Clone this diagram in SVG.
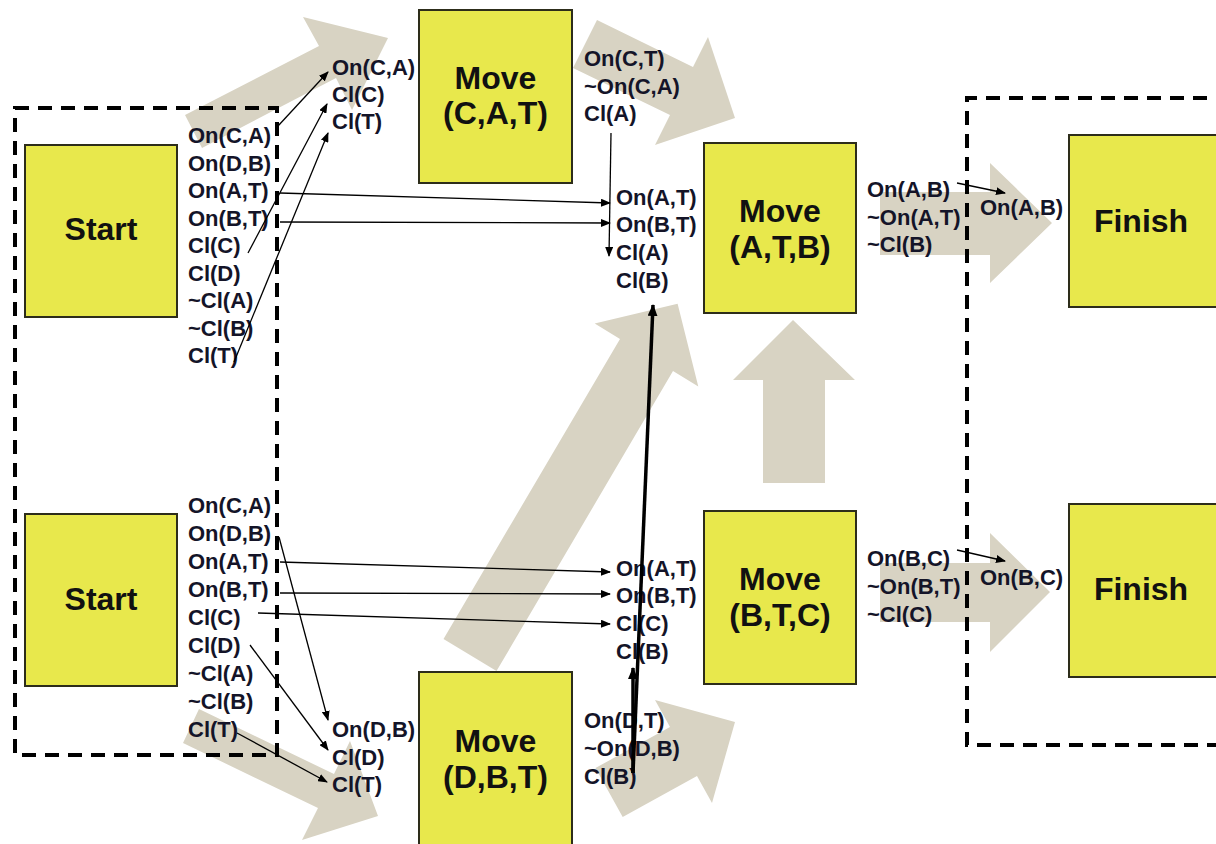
<svg xmlns="http://www.w3.org/2000/svg" width="1216" height="844" viewBox="0 0 1216 844">
<defs>
<style>
.box{fill:#E8E84C;stroke:#2d2d1a;stroke-width:2}
.big{font-family:"Liberation Sans",Arial,sans-serif;font-weight:bold;font-size:32px;fill:#111;text-anchor:middle}
.lbl{font-family:"Liberation Sans",Arial,sans-serif;font-weight:bold;font-size:22px;fill:#141428}
.flow{fill:#D8D3C3}
.dash{fill:none;stroke:#000;stroke-width:4;stroke-dasharray:14 9}
.c{fill:none;stroke:#000;stroke-width:1.3;marker-end:url(#ah)}
.ct{fill:none;stroke:#000;stroke-width:3.5;marker-end:url(#ahb)}
</style>
<marker id="ah" markerUnits="userSpaceOnUse" markerWidth="10" markerHeight="8" refX="9" refY="4" orient="auto">
<path d="M0,0 L10,4 L0,8 z" fill="#000"/>
</marker>
<marker id="ahb" markerUnits="userSpaceOnUse" markerWidth="12" markerHeight="10" refX="11" refY="5" orient="auto">
<path d="M0,0 L12,5 L0,10 z" fill="#000"/>
</marker>
</defs>
<rect width="1216" height="844" fill="#fff"/>

<g id="flows">
<polygon class="flow" points="185,115 319,46 303,17 388,38 352,110 336,78 202,148"/>
<polygon class="flow" points="597,20 693,67 708,37 735,118 655,145 670,115 573,68"/>
<polygon class="flow" points="880,192 990,192 990,163 1052,223 990,283 990,255 880,255"/>
<polygon class="flow" points="880,563 990,563 990,533 1050,592 990,652 990,622 880,622"/>
<polygon class="flow" points="763,483 763,380 733,380 793,320 855,380 825,380 825,483"/>
<polygon class="flow" points="443.5,638.9 620,338.9 594.7,323.6 677.6,303.7 698.3,386.4 673,371.1 496.5,671.1"/>
<polygon class="flow" points="199,709 334,774 350,741 378,816 302,840 318,808 183,743"/>
<polygon class="flow" points="595.5,768 670,727 655,700 735,722 712,803 697,776 622.7,817"/>
</g>

<g id="start1"><rect class="box" x="25" y="145" width="152" height="172"/><text class="big" x="101" y="240">Start</text></g>
<g id="start2"><rect class="box" x="25" y="514" width="152" height="172"/><text class="big" x="101" y="610">Start</text></g>
<g id="moveCAT"><rect class="box" x="419" y="10" width="153" height="173"/><text class="big" x="495.5" y="89">Move</text><text class="big" x="495.5" y="124">(C,A,T)</text></g>
<g id="moveATB"><rect class="box" x="704" y="143" width="152" height="170"/><text class="big" x="780" y="222">Move</text><text class="big" x="780" y="258">(A,T,B)</text></g>
<g id="moveBTC"><rect class="box" x="704" y="511" width="152" height="173"/><text class="big" x="780" y="590">Move</text><text class="big" x="780" y="626">(B,T,C)</text></g>
<g id="moveDBT"><rect class="box" x="419" y="672" width="153" height="180"/><text class="big" x="495.5" y="752">Move</text><text class="big" x="495.5" y="788">(D,B,T)</text></g>
<g id="finish1"><rect class="box" x="1069" y="135" width="160" height="172"/><text class="big" x="1141" y="232">Finish</text></g>
<g id="finish2"><rect class="box" x="1069" y="504" width="160" height="173"/><text class="big" x="1141" y="600">Finish</text></g>

<g id="labels" class="lbl">
<text x="188" y="143">On(C,A)</text>
<text x="188" y="170.5">On(D,B)</text>
<text x="188" y="198">On(A,T)</text>
<text x="188" y="225.5">On(B,T)</text>
<text x="188" y="253">Cl(C)</text>
<text x="188" y="280.5">Cl(D)</text>
<text x="188" y="308">~Cl(A)</text>
<text x="188" y="335.5">~Cl(B)</text>
<text x="188" y="363">Cl(T)</text>

<text x="188" y="513">On(C,A)</text>
<text x="188" y="541">On(D,B)</text>
<text x="188" y="569">On(A,T)</text>
<text x="188" y="597">On(B,T)</text>
<text x="188" y="625">Cl(C)</text>
<text x="188" y="653">Cl(D)</text>
<text x="188" y="681">~Cl(A)</text>
<text x="188" y="709">~Cl(B)</text>
<text x="188" y="737">Cl(T)</text>

<text x="332" y="75">On(C,A)</text>
<text x="332" y="102">Cl(C)</text>
<text x="332" y="129">Cl(T)</text>

<text x="584" y="66">On(C,T)</text>
<text x="584" y="94">~On(C,A)</text>
<text x="584" y="121">Cl(A)</text>

<text x="616" y="205">On(A,T)</text>
<text x="616" y="232">On(B,T)</text>
<text x="616" y="260">Cl(A)</text>
<text x="616" y="288">Cl(B)</text>

<text x="867" y="197">On(A,B)</text>
<text x="867" y="225">~On(A,T)</text>
<text x="867" y="252">~Cl(B)</text>

<text x="980" y="215">On(A,B)</text>

<text x="616" y="576">On(A,T)</text>
<text x="616" y="603">On(B,T)</text>
<text x="616" y="631">Cl(C)</text>
<text x="616" y="659">Cl(B)</text>

<text x="867" y="566">On(B,C)</text>
<text x="867" y="594">~On(B,T)</text>
<text x="867" y="622">~Cl(C)</text>

<text x="980" y="585">On(B,C)</text>

<text x="332" y="737">On(D,B)</text>
<text x="332" y="765">Cl(D)</text>
<text x="332" y="792">Cl(T)</text>

<text x="584" y="728">On(D,T)</text>
<text x="584" y="756">~On(D,B)</text>
<text x="584" y="784">Cl(B)</text>
</g>

<g id="regions">
<rect class="dash" x="15" y="108" width="262" height="647"/>
<path class="dash" d="M1230,98 H967 V745 H1230"/>
</g>

<g id="connectors">
<line class="c" x1="278" y1="126" x2="328" y2="72"/>
<line class="c" x1="248" y1="253" x2="327" y2="104"/>
<line class="c" x1="234" y1="362" x2="328" y2="133"/>
<line class="c" x1="280" y1="193" x2="610" y2="203"/>
<line class="c" x1="280" y1="222" x2="610" y2="223"/>
<line class="c" x1="611" y1="133" x2="609" y2="256"/>
<line class="ct" x1="633" y1="773" x2="653" y2="305"/>
<line class="ct" x1="633" y1="773" x2="633" y2="668"/>
<line class="c" x1="279" y1="537" x2="328" y2="720"/>
<line class="c" x1="280" y1="562" x2="610" y2="572"/>
<line class="c" x1="280" y1="593" x2="610" y2="594"/>
<line class="c" x1="258" y1="613" x2="610" y2="624"/>
<line class="c" x1="250" y1="645" x2="328" y2="750"/>
<line class="c" x1="237" y1="733" x2="327" y2="782"/>
<line class="c" x1="957" y1="183" x2="1005" y2="193"/>
<line class="c" x1="957" y1="550" x2="1005" y2="561"/>
</g>
</svg>
